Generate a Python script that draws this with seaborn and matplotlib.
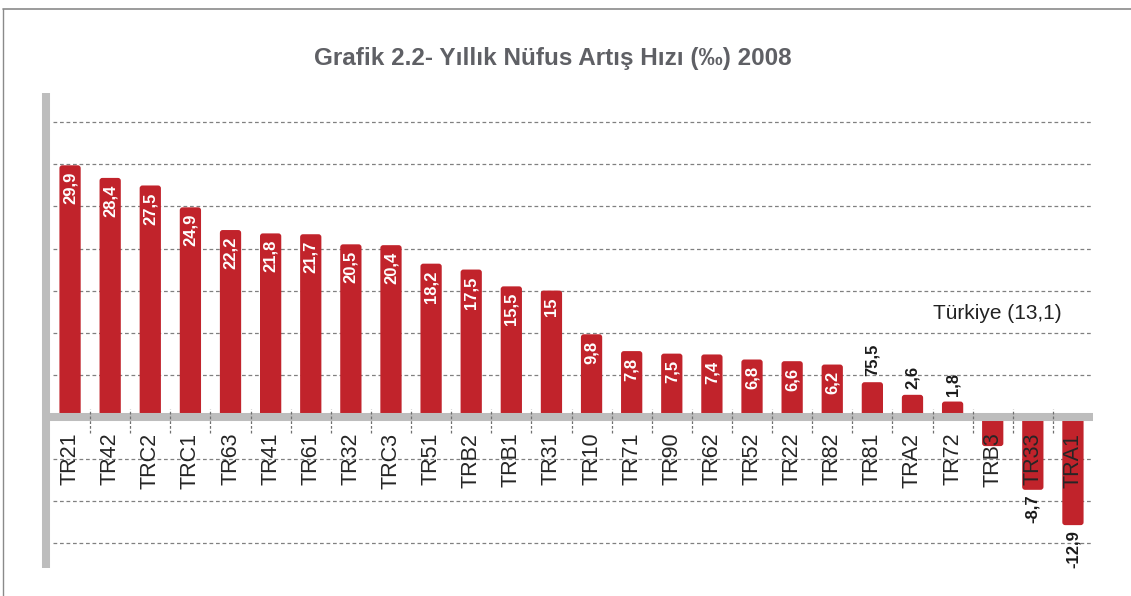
import numpy as np
import pandas as pd
import matplotlib
matplotlib.use("Agg")
import matplotlib.pyplot as plt
import seaborn as sns
from matplotlib.patches import FancyBboxPatch
from matplotlib.lines import Line2D

# Data
regions = ['TR21', 'TR42', 'TRC2', 'TRC1', 'TR63', 'TR41', 'TR61', 'TR32', 'TRC3', 'TR51',
           'TRB2', 'TRB1', 'TR31', 'TR10', 'TR71', 'TR90', 'TR62', 'TR52', 'TR22', 'TR82',
           'TR81', 'TRA2', 'TR72', 'TRB3', 'TR33', 'TRA1']
values = [29.9, 28.4, 27.5, 24.9, 22.2, 21.8, 21.7, 20.5, 20.4, 18.2,
          17.5, 15.5, 15.0, 9.8, 7.8, 7.5, 7.4, 6.8, 6.6, 6.2,
          4.1, 2.6, 1.8, -3.5, -8.7, -12.9]
value_labels = ['29,9', '28,4', '27,5', '24,9', '22,2', '21,8', '21,7', '20,5', '20,4', '18,2',
                '17,5', '15,5', '15', '9,8', '7,8', '7,5', '7,4', '6,8', '6,6', '6,2',
                '75,5', '2,6', '1,8', '', '-8,7', '-12,9']
grid_levels = [-15, -10, -5, 5, 10, 15, 20, 25, 30, 35]

df = pd.DataFrame({'region': regions, 'value': values})

sns.set_style("white")
plt.rcParams['font.family'] = ['Liberation Sans', 'DejaVu Sans']

red = '#c1232b'
band = '#bdbdbd'

fig = plt.figure(figsize=(11.31, 5.96), dpi=100)
ax = fig.add_axes([50 / 1131, 28 / 596, 1043 / 1131, 475 / 596])

sns.barplot(data=df, x='region', y='value', color=red, width=0.53,
            saturation=1, ax=ax, zorder=2)

# rounded bar corners
for p in list(ax.patches):
    x, y = p.get_x(), p.get_y()
    w, h = p.get_width(), p.get_height()
    if h < 0:
        y, h = y + h, -h
    fb = FancyBboxPatch((x, y), w, h, boxstyle="round,pad=0,rounding_size=0.07",
                        mutation_aspect=4.8, facecolor=red, edgecolor='none', zorder=2)
    p.remove()
    ax.add_patch(fb)

ax.set_xlim(-0.5, len(regions) - 0.5)
ax.set_ylim(-18, 38.5)

for g in grid_levels:
    ax.axhline(g, xmin=0.003, xmax=1, color='#808080', lw=0.9,
               linestyle=(0, (3, 2.2)), zorder=1)

ax.axhline(0, color=band, lw=5.8, zorder=3)
ax.vlines(np.arange(len(regions) - 1) + 0.5, -2.0, 0.95, colors='#707070',
          linestyles=(0, (2.2, 1.6)), lw=0.9, zorder=4)

for s in ['top', 'right', 'bottom']:
    ax.spines[s].set_visible(False)
ax.spines['left'].set_color(band)
ax.spines['left'].set_linewidth(5.8)
ax.spines['left'].set_capstyle('butt')
ax.spines['left'].set_position(('outward', 2.9))
ax.set_xticks([])
ax.set_yticks([])
ax.set_xlabel('')
ax.set_ylabel('')

for i, (name, v, lab) in enumerate(zip(regions, values, value_labels)):
    ax.text(i, -1.9, name, rotation=90, ha='center', va='top', fontsize=15.5,
            color='#262626', zorder=5)
    if not lab:
        continue
    if v >= 5:
        ax.text(i, v - 0.8, lab, rotation=90, ha='center', va='top', fontsize=12,
                fontweight='bold', color='white', zorder=5)
    elif v > 0:
        ax.text(i, v + 0.7, lab, rotation=90, ha='center', va='bottom', fontsize=12,
                fontweight='bold', color='#1a1a1a', zorder=5)
    else:
        ax.text(i, v - 0.6, lab, rotation=90, ha='center', va='top', fontsize=12,
                fontweight='bold', color='#1a1a1a', zorder=5)

ax.text(24.72, 12.3, 'Türkiye (13,1)', ha='right', va='center', fontsize=15,
        color='#222222', zorder=5)

fig.text(553 / 1131, 1 - 58 / 596, 'Grafik 2.2- Yıllık Nüfus Artış Hızı (‰) 2008',
         ha='center', va='center', fontsize=17.5, fontweight='heavy',
         fontstretch='condensed', color='#5f6065')

# page frame lines
fig.add_artist(Line2D([3 / 1131, 1], [1 - 9 / 596, 1 - 9 / 596], color='#8a8a8a', lw=1.2))
fig.add_artist(Line2D([3 / 1131, 3 / 1131], [0, 1 - 9 / 596], color='#8a8a8a', lw=1.0))

plt.savefig('out.png', dpi=100)
